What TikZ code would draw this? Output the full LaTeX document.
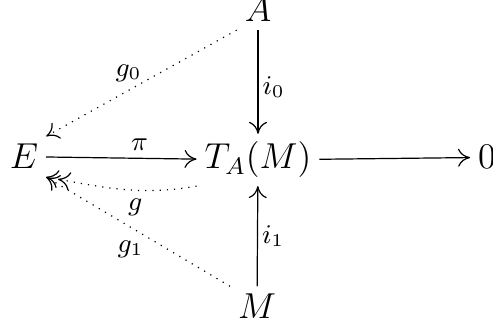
\documentclass[tikz,border=0pt]{standalone}
\usetikzlibrary{arrows.meta}
\begin{document}
\begin{tikzpicture}[x=0.333pt,y=-0.333pt,
  obj/.style={inner sep=2.5pt,anchor=base,font=\fontsize{12}{14}\selectfont},
  lab/.style={font=\fontsize{8.8}{10}\selectfont,inner sep=0pt,anchor=center},
  mor/.style={line width=0.4pt,-{To[length=4pt,width=6pt]}},
  dmor/.style={line width=0.4pt,dotted,-{To[length=4pt,width=6pt]}},
  ddmor/.style={line width=0.4pt,dotted,-{To[length=4pt,width=6pt]To[length=4pt,width=6pt]}}]
\useasboundingbox (0,0) rectangle (493,323);
\node[obj] (E) at (24,169) {$E$};
\node[obj] (T) at (258,169) {$T_A(M)$};
\node[obj] (Z) at (487,169) {$0$};
\node[obj] (A) at (258,22) {$A$};
\node[obj] (M) at (257,319) {$M$};
\draw[mor] (E) -- node[lab,pos=0.62,yshift=4.7pt] {$\pi$} (T);
\draw[mor] (T) -- (Z);
\draw[mor] (A) -- node[lab,pos=0.55,xshift=5.2pt] {$i_0$} (T);
\draw[mor] (M) -- node[lab,xshift=5.2pt] {$i_1$} (T);
\draw[dmor] (A.south west) -- node[lab,xshift=-4.3pt,yshift=3.3pt] {$g_0$} (E.north east);
\draw[ddmor] (T.south west) to[out=190,in=-10] node[lab,pos=0.4,yshift=-5.7pt] {$g$} (E.south east);
\draw[dmor] (M.north west) -- node[lab,xshift=-2.5pt,yshift=-6pt] {$g_1$} (E.south east);
\end{tikzpicture}
\end{document}
